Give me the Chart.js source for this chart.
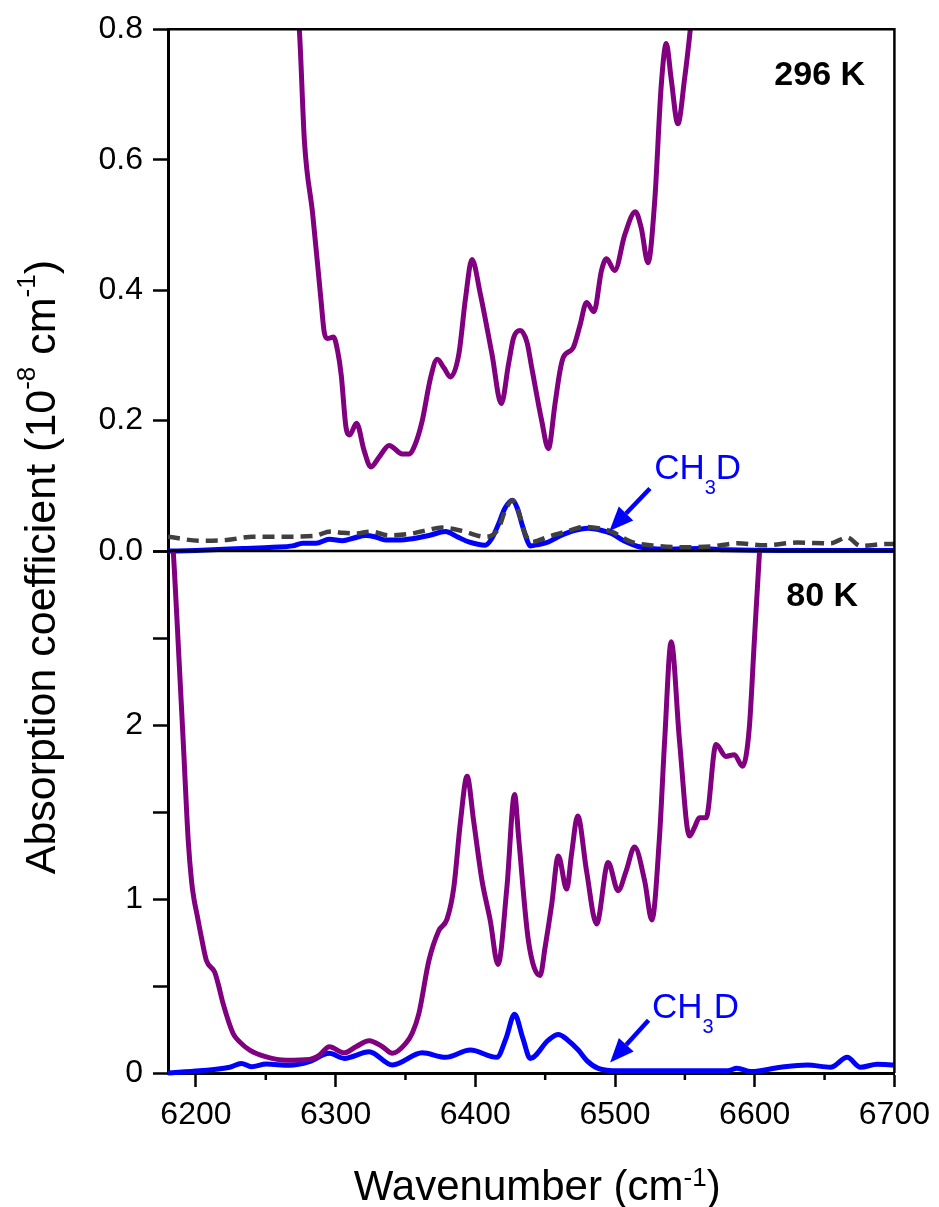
<!DOCTYPE html>
<html>
<head>
<meta charset="utf-8">
<title>Absorption spectra 296 K / 80 K</title>
<script src="https://cdn.jsdelivr.net/npm/chart.js@4.4.1/dist/chart.umd.min.js"></script>
<style>
  html, body { margin: 0; padding: 0; background: #fff; }
  #wrap { width: 939px; height: 1207px; }
</style>
</head>
<body>
<div id="wrap"><canvas id="spectrum" width="939" height="1207"></canvas></div>
<script>
// Axis ticks
const xMajorTicks = [6200, 6300, 6400, 6500, 6600, 6700];
const xMinorTicks = [6250, 6350, 6450, 6550, 6650];
const yTopTicks = [0, 0.1, 0.2, 0.3, 0.4, 0.5, 0.6, 0.7, 0.8];
const yTopLabels = ["0.0", "", "0.2", "", "0.4", "", "0.6", "", "0.8"];
const yBotTicks = [0, 0.5, 1, 1.5, 2, 2.5, 3];
const yBotLabels = ["0", "", "1", "", "2", "", ""];

// 296 K, main absorption (purple)
const wn296 = [6271, 6274, 6277.7, 6283.6, 6289.6, 6291.8, 6294, 6298.5, 6301.4, 6304, 6307.4, 6310, 6315, 6320.4,
  6325.2, 6331.1, 6338.3, 6347.7, 6352.5, 6357.2, 6362, 6368, 6372.7, 6377.5, 6382.2, 6388.2, 6393,
  6397.6, 6403.5, 6411.9, 6418.6, 6423.8, 6427.4, 6432.1, 6437, 6440.4, 6447.5, 6452.3, 6457,
  6460.6, 6463, 6470.1, 6474.8, 6479.6, 6484.9, 6490.3, 6493.9, 6499.8, 6507, 6514.6, 6518.8, 6523.6,
  6528.4, 6533.1, 6536.7, 6540.2, 6545, 6549.8, 6553.9, 6557];
const k296 = [0.86, 0.80, 0.627, 0.516, 0.383, 0.336, 0.326, 0.328, 0.307, 0.27, 0.19, 0.178, 0.196, 0.154,
  0.129, 0.144, 0.162, 0.149, 0.149, 0.165, 0.2, 0.266, 0.294, 0.281, 0.267, 0.302, 0.388,
  0.447, 0.395, 0.302, 0.226, 0.287, 0.327, 0.338, 0.32, 0.281, 0.2, 0.157, 0.225,
  0.276, 0.297, 0.312, 0.345, 0.381, 0.367, 0.43, 0.448, 0.43, 0.485, 0.52, 0.495, 0.442,
  0.536, 0.714, 0.778, 0.724, 0.655, 0.724, 0.8, 0.87];

// 296 K, CH3D (blue)
const wn296D = [6180, 6200, 6233.7, 6255, 6269.3, 6276.4, 6286, 6295.5, 6305, 6313, 6321.6, 6328, 6335.9,
  6345, 6354.9, 6367, 6378.6, 6387, 6395.3, 6407.2, 6412, 6416.7, 6421, 6426.6, 6430, 6433.3, 6436.5,
  6439.3, 6445, 6452.3, 6459.4, 6470, 6480.8, 6490, 6497.5, 6507, 6516.5, 6535.5, 6560, 6580, 6620, 6700];
const k296D = [0.0, 0.001, 0.004, 0.006, 0.008, 0.012, 0.012, 0.018, 0.016, 0.02, 0.024, 0.022, 0.017,
  0.017, 0.019, 0.024, 0.03, 0.022, 0.014, 0.009, 0.02, 0.042, 0.065, 0.078, 0.066, 0.042, 0.02,
  0.008, 0.01, 0.014, 0.022, 0.031, 0.035, 0.032, 0.027, 0.015, 0.007, 0.003, 0.004, 0.002, 0.001, 0.001];

// 296 K, second trace (grey dashed)
const wn296Dash = [6180, 6202.8, 6221.8, 6240.8, 6262.2, 6283.6, 6296.7, 6305, 6314.5, 6325.2, 6338.3,
  6354.9, 6365, 6376.2, 6390.5, 6407.2, 6416.7, 6421, 6426.6, 6431, 6435, 6440.4, 6452.3, 6465, 6478.4,
  6488, 6497.5, 6511.7, 6530.7, 6549.7, 6568.7, 6587.8, 6606.8, 6630.5, 6654.3, 6666.2, 6675.7, 6694.7, 6700];
const k296Dash = [0.022, 0.016, 0.017, 0.022, 0.022, 0.023, 0.03, 0.028, 0.027, 0.03, 0.024,
  0.027, 0.032, 0.036, 0.031, 0.022, 0.035, 0.06, 0.078, 0.06, 0.03, 0.014, 0.022, 0.03, 0.037,
  0.035, 0.03, 0.014, 0.008, 0.006, 0.007, 0.012, 0.009, 0.013, 0.012, 0.021, 0.008, 0.011, 0.011];

// 80 K, main absorption (purple)
const wn80 = [6183, 6184.5, 6187.3, 6190.9, 6194.5, 6196.9, 6198.6, 6200.8, 6203.9, 6207.5, 6213.4, 6215.9, 6219.4,
  6226.6, 6231.3, 6238.5, 6250.4, 6264.6, 6281.2, 6288.4, 6295.5, 6306.2, 6314.5, 6324, 6333.5, 6340.6,
  6350.2, 6354.9, 6359.6, 6366.8, 6373.9, 6379.8, 6384.6, 6389.4, 6394.1, 6398.8, 6404.8, 6410.7, 6416.2,
  6422.6, 6428.1, 6431, 6438, 6446.4, 6449.9, 6454.7, 6459.4, 6465.4, 6468.9, 6473.3, 6479.6, 6486.8,
  6495.1, 6502.2, 6508, 6514, 6521.2, 6526.4, 6531.8, 6535.5, 6540.2, 6546.2, 6553.3, 6556.8, 6560.4,
  6565.2, 6572.3, 6579.4, 6585.4, 6591.3, 6596.1, 6599.7, 6603.2, 6604.5];
const k80 = [3.1, 2.9, 2.47, 1.906, 1.334, 1.1, 1.0, 0.91, 0.78, 0.647, 0.58, 0.513, 0.4,
  0.227, 0.179, 0.132, 0.093, 0.074, 0.078, 0.103, 0.151, 0.116, 0.151, 0.185, 0.151, 0.113,
  0.17, 0.23, 0.342, 0.647, 0.819, 0.886, 1.067, 1.448, 1.706, 1.448, 1.105, 0.876, 0.624,
  1.067, 1.601, 1.353, 0.761, 0.561, 0.72, 0.971, 1.248, 1.057, 1.26, 1.477, 1.162, 0.857,
  1.21, 1.048, 1.162, 1.299, 1.105, 0.88, 1.353, 1.906, 2.479, 1.906, 1.362, 1.41, 1.467,
  1.467, 1.888, 1.82, 1.83, 1.763, 1.982, 2.479, 2.963, 3.1];

// 80 K, CH3D (blue)
const wn80D = [6180, 6202.8, 6224.2, 6232.5, 6239.7, 6250.4, 6267, 6281.2, 6295.5, 6306.2, 6324, 6340.6,
  6362, 6378.6, 6396.4, 6415.4, 6422, 6428.1, 6434, 6439.3, 6452.3, 6459.4, 6466, 6473.7, 6480, 6488,
  6502.2, 6535.5, 6580.6, 6587.3, 6597.3, 6618.6, 6637.7, 6654.3, 6666.2, 6675.7, 6687.6, 6700];
const k80D = [0.0, 0.013, 0.033, 0.055, 0.036, 0.052, 0.044, 0.065, 0.113, 0.084, 0.122, 0.046,
  0.116, 0.09, 0.132, 0.09, 0.2, 0.338, 0.2, 0.084, 0.189, 0.221, 0.19, 0.132, 0.07, 0.027,
  0.013, 0.013, 0.013, 0.027, 0.008, 0.033, 0.046, 0.033, 0.09, 0.033, 0.05, 0.046];

// Labels placed in data coordinates
const panelLabels = [
  { text: "296 K", x: 6679, y: 0.715, axis: "yTop" },
  { text: "80 K", x: 6674, y: 2.685, axis: "yBot" }
];
const ch3dLabels = [
  { x: 6528, y: 0.111, axis: "yTop", tail: [6525, 0.096], tip: [6496, 0.031] },
  { x: 6526.5, y: 0.315, axis: "yBot", tail: [6524, 0.303], tip: [6496.5, 0.06] }
];

const FONT = "'Liberation Sans', Arial, Helvetica, sans-serif";
const PURPLE = "#800080";
const BLUE = "#0000ff";
const GREY = "#404040";

function points(xs, ys) {
  return xs.map((x, i) => ({ x: x, y: ys[i] }));
}

// draws a run of text pieces, some raised (sup) or lowered (sub)
function drawParts(ctx, parts, x, y, align, size, smallSize, raise, drop, weight) {
  let total = 0;
  parts.forEach(p => {
    ctx.font = (weight || "") + " " + (p.sup || p.sub ? smallSize : size) + "px " + FONT;
    p.w = ctx.measureText(p.t).width;
    total += p.w;
  });
  let cx = align === "center" ? x - total / 2 : (align === "right" ? x - total : x);
  ctx.textAlign = "left";
  ctx.textBaseline = "alphabetic";
  parts.forEach(p => {
    ctx.font = (weight || "") + " " + (p.sup || p.sub ? smallSize : size) + "px " + FONT;
    const dy = p.sup ? -raise : (p.sub ? drop : 0);
    ctx.fillText(p.t, cx, y + dy);
    cx += p.w;
  });
}

function drawArrow(ctx, x1, y1, x2, y2) {
  const ang = Math.atan2(y2 - y1, x2 - x1);
  const headLen = 24, headHalf = 10;
  const bx = x2 - headLen * Math.cos(ang), by = y2 - headLen * Math.sin(ang);
  ctx.beginPath();
  ctx.moveTo(x1, y1);
  ctx.lineTo(bx, by);
  ctx.stroke();
  ctx.beginPath();
  ctx.moveTo(x2, y2);
  ctx.lineTo(bx + headHalf * Math.sin(ang), by - headHalf * Math.cos(ang));
  ctx.lineTo(bx - headHalf * Math.sin(ang), by + headHalf * Math.cos(ang));
  ctx.closePath();
  ctx.fill();
}

// clip each trace to its own panel, then draw frame, minor ticks, titles and labels
const panelPlugin = {
  id: "panels",
  beforeDatasetDraw(chart, args) {
    const ys = args.meta.yScale;
    const a = chart.chartArea;
    const ctx = chart.ctx;
    ctx.save();
    ctx.beginPath();
    ctx.rect(a.left, ys.top, a.right - a.left, ys.bottom - ys.top + 3);
    ctx.clip();
  },
  afterDatasetDraw(chart) {
    chart.ctx.restore();
  },
  afterDraw(chart) {
    const ctx = chart.ctx;
    const a = chart.chartArea;
    const xs = chart.scales.x;
    const yTop = chart.scales.yTop;
    ctx.save();
    ctx.strokeStyle = "#000";
    ctx.lineWidth = 2.5;
    ctx.beginPath();
    ctx.moveTo(a.left, a.top);
    ctx.lineTo(a.right, a.top);
    ctx.lineTo(a.right, a.bottom);
    ctx.moveTo(a.left, yTop.bottom);
    ctx.lineTo(a.right, yTop.bottom);
    ctx.stroke();

    // minor x ticks
    ctx.beginPath();
    xMinorTicks.forEach(v => {
      const px = xs.getPixelForValue(v);
      ctx.moveTo(px, a.bottom);
      ctx.lineTo(px, a.bottom + 7);
    });
    ctx.stroke();

    // axis titles
    ctx.fillStyle = "#000";
    drawParts(ctx, [{ t: "Wavenumber (cm" }, { t: "-1", sup: true }, { t: ")" }],
      (a.left + a.right) / 2 + 6, a.bottom + 127, "center", 42, 26, 14, 0);
    ctx.save();
    ctx.translate(a.left - 113, (a.top + a.bottom) / 2 + 16);
    ctx.rotate(-Math.PI / 2);
    drawParts(ctx, [{ t: "Absorption coefficient (10" }, { t: "-8", sup: true }, { t: " cm" },
      { t: "-1", sup: true }, { t: ")" }], 0, 0, "center", 43, 26, 20, 0);
    ctx.restore();

    // temperature labels
    panelLabels.forEach(l => {
      const sc = chart.scales[l.axis];
      drawParts(ctx, [{ t: l.text }], xs.getPixelForValue(l.x), sc.getPixelForValue(l.y),
        "right", 34, 34, 0, 0, "bold");
    });

    // CH3D labels with arrows
    ctx.fillStyle = BLUE;
    ctx.strokeStyle = BLUE;
    ctx.lineWidth = 4.5;
    ch3dLabels.forEach(l => {
      const sc = chart.scales[l.axis];
      drawParts(ctx, [{ t: "CH" }, { t: "3", sub: true }, { t: "D" }],
        xs.getPixelForValue(l.x), sc.getPixelForValue(l.y), "left", 35, 20, 0, 15);
      drawArrow(ctx, xs.getPixelForValue(l.tail[0]), sc.getPixelForValue(l.tail[1]),
        xs.getPixelForValue(l.tip[0]), sc.getPixelForValue(l.tip[1]));
    });
    ctx.restore();
  }
};

Chart.defaults.font.family = FONT;
Chart.defaults.font.size = 32;
Chart.defaults.color = "#000";

function lineSet(xs, ys, axis, color, dash) {
  return {
    data: points(xs, ys),
    yAxisID: axis,
    borderColor: color,
    borderWidth: dash ? 4.5 : 5,
    borderDash: dash || [],
    borderCapStyle: "butt",
    borderJoinStyle: "round",
    pointRadius: 0,
    cubicInterpolationMode: "monotone",
    fill: false,
    clip: false
  };
}

const yGrid = { display: true, drawOnChartArea: false, drawTicks: true, tickLength: 15, tickWidth: 2.5, tickColor: "#000" };
const yBorder = { display: true, width: 3, color: "#000" };

const chart = new Chart(document.getElementById("spectrum"), {
  type: "line",
  data: {
    datasets: [
      lineSet(wn296Dash, k296Dash, "yTop", GREY, [12, 7]),
      lineSet(wn296, k296, "yTop", PURPLE),
      lineSet(wn80, k80, "yBot", PURPLE),
      lineSet(wn296D, k296D, "yTop", BLUE),
      lineSet(wn80D, k80D, "yBot", BLUE)
    ]
  },
  options: {
    responsive: false,
    animation: false,
    layout: { padding: { top: 27, right: 42, bottom: 0, left: 0 } },
    plugins: { legend: { display: false }, tooltip: { enabled: false } },
    scales: {
      x: {
        type: "linear",
        min: 6180,
        max: 6700,
        afterBuildTicks: axis => { axis.ticks = xMajorTicks.map(v => ({ value: v })); },
        afterFit: axis => { axis.height = 134; },
        ticks: { padding: 9, font: { size: 32 }, callback: v => String(v), maxRotation: 0 },
        grid: { display: true, drawOnChartArea: false, drawTicks: true, tickLength: 14, tickWidth: 2.5, tickColor: "#000" },
        border: yBorder
      },
      yBot: {
        type: "linear",
        position: "left",
        stack: "panels",
        stackWeight: 1,
        min: 0,
        max: 3,
        afterBuildTicks: axis => { axis.ticks = yBotTicks.map(v => ({ value: v })); },
        afterFit: axis => { axis.width = 168; },
        ticks: { padding: 10, font: { size: 32 }, callback: (v, i) => yBotLabels[i] },
        grid: yGrid,
        border: yBorder
      },
      yTop: {
        type: "linear",
        position: "left",
        stack: "panels",
        stackWeight: 1,
        min: 0,
        max: 0.8,
        afterBuildTicks: axis => { axis.ticks = yTopTicks.map(v => ({ value: v })); },
        afterFit: axis => { axis.width = 168; },
        ticks: { padding: 10, font: { size: 32 }, callback: (v, i) => yTopLabels[i] },
        grid: yGrid,
        border: yBorder
      }
    }
  },
  plugins: [panelPlugin]
});
</script>
</body>
</html>
